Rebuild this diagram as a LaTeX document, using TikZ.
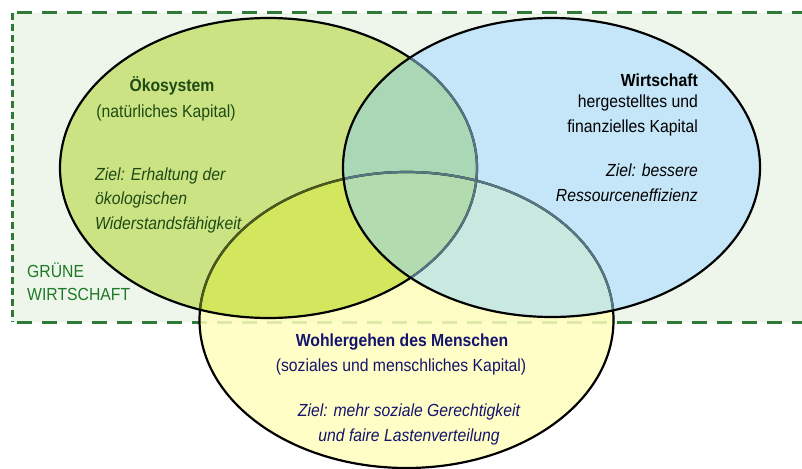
\documentclass[tikz,border=0pt]{standalone}
\usepackage{fontspec}
\setmainfont{Liberation Sans}[FakeStretch=0.9]

\definecolor{gwrand}{HTML}{2E7A36}
\definecolor{gwgrund}{HTML}{EEF6EC}
\definecolor{gwtext}{HTML}{1E7A26}
\definecolor{oekofarbe}{HTML}{CCE384}
\definecolor{wirtfarbe}{HTML}{C5E6F8}
\definecolor{menschfarbe}{HTML}{FFFEBC}
\definecolor{oekomensch}{HTML}{D2E75E}
\definecolor{oekowirt}{HTML}{AAD8B6}
\definecolor{wirtmensch}{HTML}{C8E8E0}
\definecolor{alledrei}{HTML}{B2DBB0}
\definecolor{oekotext}{HTML}{1E4A14}
\definecolor{menschtext}{HTML}{14146E}
\definecolor{randoliv}{HTML}{4A5A1E}
\definecolor{randgrau}{HTML}{557784}

\def\oeko{(268.5,168) ellipse [x radius=208.5, y radius=150]}
\def\wirt{(551.5,167.5) ellipse [x radius=208.5, y radius=149.5]}
\def\mensch{(406.5,320) ellipse [x radius=207, y radius=148]}

\begin{document}
\begin{tikzpicture}[x=1pt, y=-1pt,
  gwlinie/.style={gwrand, line width=3},
  kreisrand/.style={line width=2.2},
  txt/.style={inner sep=0pt, font=\fontsize{17.5}{24.5}\selectfont},
  titel/.style={txt, font=\fontsize{17.5}{24.5}\selectfont\bfseries},
  ziel/.style={txt, font=\fontsize{17.5}{24.5}\selectfont\itshape}]
  \useasboundingbox (0,0) rectangle (802,468);

  \fill[gwgrund] (12,13) rectangle (810,322);
  \draw[gwlinie, dash pattern=on 15 off 10] (17,13) -- (810,13);
  \draw[gwlinie, dash pattern=on 15 off 10] (17,322) -- (810,322);
  \draw[gwlinie, dash pattern=on 7 off 4] (12,13) -- (12,322);

  \fill[menschfarbe, fill opacity=0.85] \mensch;
  \fill[oekofarbe] \oeko;
  \fill[wirtfarbe] \wirt;
  \begin{scope}
    \clip \oeko;
    \fill[oekomensch] \mensch;
  \end{scope}
  \begin{scope}
    \clip \oeko;
    \fill[oekowirt] \wirt;
  \end{scope}
  \begin{scope}
    \clip \wirt;
    \fill[wirtmensch] \mensch;
  \end{scope}
  \begin{scope}
    \clip \oeko;
    \clip \wirt;
    \fill[alledrei] \mensch;
  \end{scope}

  \draw[kreisrand] \mensch;
  \begin{scope}
    \clip \oeko;
    \draw[kreisrand, randoliv] \mensch;
  \end{scope}
  \begin{scope}
    \clip \wirt;
    \draw[kreisrand, randgrau] \mensch;
  \end{scope}
  \draw[kreisrand] \oeko;
  \begin{scope}
    \clip \wirt;
    \draw[kreisrand, randgrau] \oeko;
  \end{scope}
  \draw[kreisrand] \wirt;

  \node[titel, text=oekotext] (oekotitel) at (172,86) {Ökosystem};
  \node[txt, text=oekotext] (oekokapital) at (166,113) {(natürliches Kapital)};
  \node[ziel, text=oekotext, align=left, anchor=west] (oekoziel) at (95,200)
    {Ziel: Erhaltung der\\ökologischen\\Widerstandsfähigkeit};

  \node[titel, anchor=east] (wirttitel) at (698,80) {Wirtschaft};
  \node[txt, align=right, anchor=east] (wirtkapital) at (698,115.5)
    {hergestelltes und\\finanzielles Kapital};
  \node[ziel, align=right, anchor=east] (wirtziel) at (698,182.5)
    {Ziel: bessere\\Ressourceneffizienz};

  \node[titel, text=menschtext] (menschtitel) at (402,342) {Wohlergehen des Menschen};
  \node[txt, text=menschtext] (menschkapital) at (401,367) {(soziales und menschliches Kapital)};
  \node[ziel, text=menschtext, align=center] (menschziel) at (409,424.5)
    {Ziel: mehr soziale Gerechtigkeit\\und faire Lastenverteilung};

  \node[txt, text=gwtext, align=left, anchor=west,
    font=\fontsize{17.5}{23}\selectfont] (gwname) at (27,281.5) {GRÜNE\\WIRTSCHAFT};
\end{tikzpicture}
\end{document}
